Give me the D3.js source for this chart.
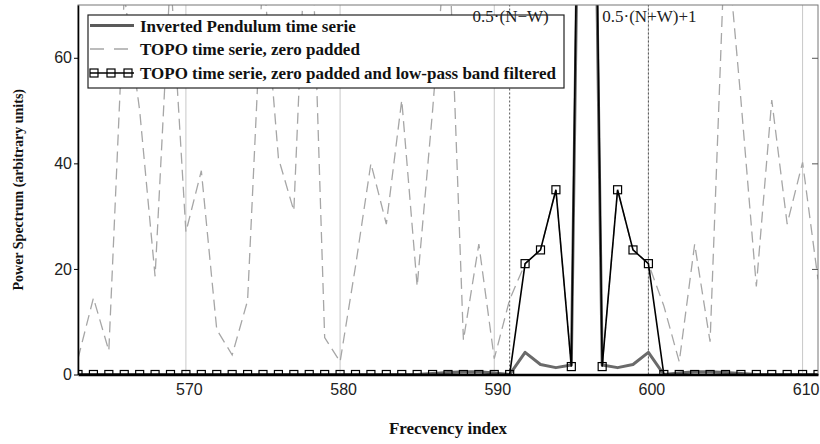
<!DOCTYPE html>
<html>
<head>
<meta charset="utf-8">
<script src="https://cdn.jsdelivr.net/npm/d3@7"></script>
<style>
  body { margin: 0; background: #fff; }
  svg { display: block; }
</style>
</head>
<body>
<div id="chart"></div>
<script>
// frequency index (x categories)
const freqIndex = [563, 564, 565, 566, 567, 568, 569, 570, 571, 572, 573, 574, 575, 576, 577, 578, 579, 580,
    581, 582, 583, 584, 585, 586, 587, 588, 589, 590, 591, 592, 593, 594, 595, 596, 597, 598, 599, 600,
    601, 602, 603, 604, 605, 606, 607, 608, 609, 610, 611];

// Inverted Pendulum time serie
const pendulum = [0, 0, 0, 0, 0, 0, 0, 0, 0, 0, 0, 0, 0, 0, 0, 0, 0, 0,
    0, 0, 0, 0, 0, 0.2, 0.4, 0.5, 0.5, 0.3, 0, 4.2, 1.9, 1.3, 1.8, 210, 1.8, 1.3, 1.9, 4.2,
    0, 0.3, 0.5, 0.5, 0.4, 0.2, 0, 0, 0, 0, 0];

// TOPO time serie, zero padded
const topo = [3, 14.5, 4.5, 72, 50, 18.6, 76, 27, 38.6, 8.5, 3.7, 14, 77, 41, 31, 100, 7, 2.4,
    20.5, 40, 28.5, 52, 16.7, 50, 87, 6.5, 24.7, 3, 14.2, 21, 23.6, 35, 1.5, 230, 1.5, 35, 23.6, 21,
    13, 2.4, 24.7, 6.2, 85, 52, 16.7, 52, 28.5, 40.2, 18];

// TOPO time serie, zero padded and low-pass band filtered
const topoFiltered = [0, 0, 0, 0, 0, 0, 0, 0, 0, 0, 0, 0, 0, 0, 0, 0, 0, 0,
    0, 0, 0, 0, 0, 0, 0, 0, 0, 0, 0, 21, 23.6, 35, 1.5, 230, 1.5, 35, 23.6, 21,
    0, 0, 0, 0, 0, 0, 0, 0, 0, 0, 0];

const xTicks = [570, 580, 590, 600, 610];
const yTicks = [0, 20, 40, 60];
const bandEdges = [591, 600];
const bandLabels = ['0.5\u00b7(N\u2212W)', '0.5\u00b7(N+W)+1'];
const legendLabels = [
    'Inverted Pendulum time serie',
    'TOPO time serie, zero padded',
    'TOPO time serie, zero padded and low-pass band filtered'
];

const width = 820, height = 444;
const margin = {top: 5, right: 2, bottom: 69.5, left: 78};
const serif = '"Liberation Serif", "Times New Roman", serif';
const narrow = '"Liberation Sans Narrow", "Liberation Sans", Arial, sans-serif';

const svg = d3.select('#chart')
    .append('svg')
    .attr('width', width)
    .attr('height', height);

svg.append('rect').attr('width', width).attr('height', height).attr('fill', '#fff');

const x = d3.scaleLinear()
    .domain([563, 611])
    .range([margin.left, width - margin.right]);

const y = d3.scaleLinear()
    .domain([0, 70])
    .range([height - margin.bottom, margin.top]);

const x0 = margin.left, x1 = width - margin.right;
const y0 = height - margin.bottom, y1 = margin.top;

svg.append('clipPath').attr('id', 'plot-clip')
    .append('rect')
    .attr('x', x0).attr('y', y1)
    .attr('width', x1 - x0).attr('height', y0 - y1);

const plot = svg.append('g').attr('clip-path', 'url(#plot-clip)');

// Grid lines
plot.selectAll('line.grid')
    .data(xTicks)
    .enter()
    .append('line')
    .attr('class', 'grid')
    .attr('x1', d => x(d)).attr('x2', d => x(d))
    .attr('y1', y0).attr('y2', y1)
    .attr('stroke', '#c8c8c8')
    .attr('stroke-width', 1);

// Band edges (dotted)
plot.selectAll('line.band')
    .data(bandEdges)
    .enter()
    .append('line')
    .attr('class', 'band')
    .attr('x1', d => x(d)).attr('x2', d => x(d))
    .attr('y1', y0).attr('y2', y1)
    .attr('stroke', '#555')
    .attr('stroke-width', 1)
    .attr('stroke-dasharray', '2,2');

const line = vals => d3.line()
    .x((d, i) => x(freqIndex[i]))
    .y(d => y(d))(vals);

// TOPO dashed
plot.append('path')
    .attr('d', line(topo))
    .attr('fill', 'none')
    .attr('stroke', '#a6a6a6')
    .attr('stroke-width', 1.3)
    .attr('stroke-dasharray', '11,6');

// Inverted pendulum
plot.append('path')
    .attr('d', line(pendulum))
    .attr('fill', 'none')
    .attr('stroke', '#6a6a6a')
    .attr('stroke-width', 3)
    .attr('stroke-linejoin', 'round');

// Filtered
plot.append('path')
    .attr('d', line(topoFiltered))
    .attr('fill', 'none')
    .attr('stroke', '#000')
    .attr('stroke-width', 1.6);

const sq = 8;
plot.selectAll('rect.marker')
    .data(topoFiltered)
    .enter()
    .append('rect')
    .attr('class', 'marker')
    .attr('x', (d, i) => x(freqIndex[i]) - sq / 2)
    .attr('y', d => y(d) - sq / 2)
    .attr('width', sq).attr('height', sq)
    .attr('fill', 'none')
    .attr('stroke', '#000')
    .attr('stroke-width', 1.2);

// Frame
svg.append('rect')
    .attr('x', x0).attr('y', y1)
    .attr('width', x1 - x0).attr('height', y0 - y1)
    .attr('fill', 'none')
    .attr('stroke', '#777')
    .attr('stroke-width', 1);

// Y axis
svg.append('g')
    .attr('transform', `translate(${x0},0)`)
    .call(d3.axisLeft(y).tickValues(yTicks).tickSize(4).tickPadding(2).tickSizeOuter(0))
    .call(g => g.select('.domain').attr('stroke', '#000').attr('stroke-width', 1.6))
    .call(g => g.selectAll('.tick line').attr('stroke', '#000'))
    .call(g => g.selectAll('text')
        .attr('font-family', narrow)
        .attr('font-size', '16px')
        .attr('fill', '#222'));

// right side inner ticks
svg.append('g')
    .attr('transform', `translate(${x1},0)`)
    .call(d3.axisLeft(y).tickValues(yTicks.slice(1)).tickSize(6).tickFormat('').tickSizeOuter(0))
    .call(g => g.select('.domain').remove())
    .call(g => g.selectAll('.tick line').attr('stroke', '#555'));

// X axis
svg.append('g')
    .attr('transform', `translate(0,${y0})`)
    .call(d3.axisBottom(x).tickValues(xTicks).tickSize(0).tickPadding(9).tickSizeOuter(0))
    .call(g => g.select('.domain').attr('stroke', '#000').attr('stroke-width', 2.5))
    .call(g => g.selectAll('text')
        .attr('font-family', narrow)
        .attr('font-size', '16px')
        .attr('dx', 3)
        .attr('fill', '#222'));

// Legend
const legend = svg.append('g');
legend.append('rect')
    .attr('x', 88).attr('y', 15)
    .attr('width', 476).attr('height', 73)
    .attr('fill', '#fff')
    .attr('stroke', '#222')
    .attr('stroke-width', 1.2);

const rowY = [25.5, 49, 73];
legend.append('line')
    .attr('x1', 90).attr('x2', 134).attr('y1', rowY[0]).attr('y2', rowY[0])
    .attr('stroke', '#5a5a5a').attr('stroke-width', 3);
legend.append('line')
    .attr('x1', 90).attr('x2', 134).attr('y1', rowY[1]).attr('y2', rowY[1])
    .attr('stroke', '#a6a6a6').attr('stroke-width', 1.3).attr('stroke-dasharray', '14,10');
legend.append('line')
    .attr('x1', 90).attr('x2', 134).attr('y1', rowY[2]).attr('y2', rowY[2])
    .attr('stroke', '#000').attr('stroke-width', 1.4);
legend.selectAll('rect.lm')
    .data([94, 111, 128])
    .enter()
    .append('rect')
    .attr('class', 'lm')
    .attr('x', d => d - 4).attr('y', rowY[2] - 4)
    .attr('width', 8).attr('height', 8)
    .attr('fill', 'none').attr('stroke', '#000').attr('stroke-width', 1.2);

legend.selectAll('text')
    .data(legendLabels)
    .enter()
    .append('text')
    .attr('x', 140)
    .attr('y', (d, i) => rowY[i] + 6)
    .attr('font-family', serif)
    .attr('font-weight', 'bold')
    .attr('font-size', '17px')
    .attr('fill', '#111')
    .text(d => d);

// Band labels
svg.selectAll('text.band-label')
    .data(bandEdges)
    .enter()
    .append('text')
    .attr('class', 'band-label')
    .attr('x', d => x(d) + 1)
    .attr('y', 22)
    .attr('text-anchor', 'middle')
    .attr('font-family', serif)
    .attr('font-size', '17px')
    .attr('fill', '#222')
    .text((d, i) => bandLabels[i]);

// Axis titles
svg.append('text')
    .attr('x', (x0 + x1) / 2)
    .attr('y', 434)
    .attr('text-anchor', 'middle')
    .attr('font-family', serif)
    .attr('font-weight', 'bold')
    .attr('font-size', '17px')
    .attr('fill', '#111')
    .text('Frecvency index');

svg.append('text')
    .attr('transform', 'rotate(-90)')
    .attr('x', -(y0 + y1) / 2)
    .attr('y', 23)
    .attr('text-anchor', 'middle')
    .attr('font-family', serif)
    .attr('font-weight', 'bold')
    .attr('font-size', '14px')
    .attr('fill', '#111')
    .text('Power Spectrum (arbitrary units)');
</script>
</body>
</html>
